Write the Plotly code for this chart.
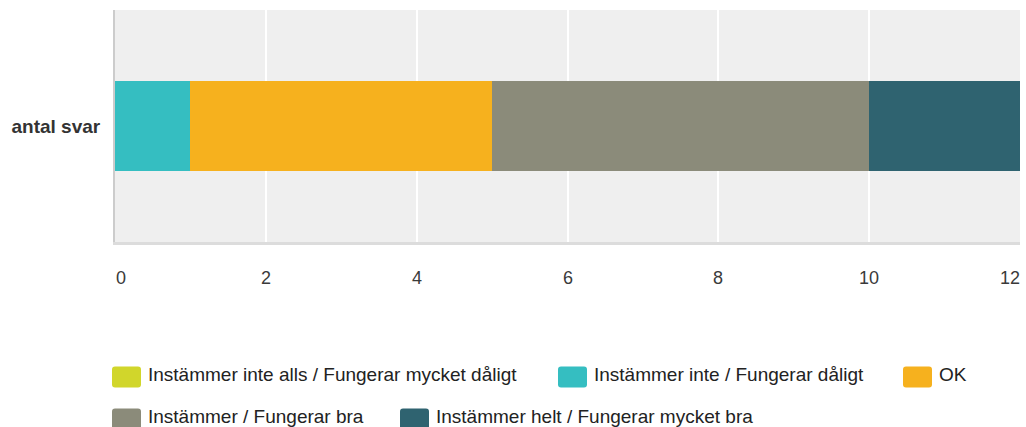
import plotly.graph_objects as go

# ---- data ----
category = ["antal svar"]
series_names = [
    "Instämmer inte alls / Fungerar mycket dåligt",
    "Instämmer inte / Fungerar dåligt",
    "OK",
    "Instämmer / Fungerar bra",
    "Instämmer helt / Fungerar mycket bra",
]
series_values = [0, 1, 4, 5, 2]
series_colors = ["#D1D62B", "#35BEC1", "#F6B11E", "#8B8B7A", "#2F6370"]
x_ticks = [0, 2, 4, 6, 8, 10, 12]

# ---- layout constants (pixels) ----
W, H = 1026, 427
ML, MR, MT, MB = 115, 6, 10, 185
FONT = "Liberation Sans, Arial, sans-serif"
FS = 19

fig = go.Figure()
for name, val, col in zip(series_names, series_values, series_colors):
    fig.add_trace(go.Bar(
        y=category, x=[val], name=name, orientation="h",
        marker=dict(color=col, line=dict(width=0)),
        width=0.388, showlegend=False, hoverinfo="name+x",
    ))

annotations = []
# x tick labels (ends nudged inward like the reference)
tick_shift = {x_ticks[0]: 6, x_ticks[-1]: -10}
for t in x_ticks:
    annotations.append(dict(
        x=t, xref="x", y=0, yref="paper", yshift=-36, yanchor="middle",
        xanchor="center", xshift=tick_shift.get(t, 0), text=str(t), showarrow=False,
        font=dict(family=FONT, size=18, color="#3A3A3A"),
    ))

# custom legend with rounded swatches
legend_pos = [(112, 377), (558, 377), (903, 377), (112, 419), (400, 419)]
sw_w, sw_h, rad = 29, 21, 3
plot_bottom = H - MB
shapes = []

def rounded(x0, x1, yb, yt, r):
    return (f"M {x0+r},{yb} L {x1-r},{yb} Q {x1},{yb} {x1},{yb+r} "
            f"L {x1},{yt-r} Q {x1},{yt} {x1-r},{yt} L {x0+r},{yt} "
            f"Q {x0},{yt} {x0},{yt-r} L {x0},{yb+r} Q {x0},{yb} {x0+r},{yb} Z")

for (px, cy), name, col in zip(legend_pos, series_names, series_colors):
    x0 = px - ML
    x1 = x0 + sw_w
    yc = plot_bottom - cy  # pixels up from plot bottom
    shapes.append(dict(
        type="path", xref="paper", yref="paper",
        xsizemode="pixel", ysizemode="pixel", xanchor=0, yanchor=0,
        path=rounded(x0, x1, yc - sw_h / 2, yc + sw_h / 2, rad),
        fillcolor=col, line=dict(width=0), layer="above",
    ))
    annotations.append(dict(
        x=0, xref="paper", xshift=x1 + 5, y=0, yref="paper", yshift=yc + 3,
        xanchor="left", yanchor="middle", text=name, showarrow=False,
        font=dict(family=FONT, size=FS, color="#222222"),
    ))

fig.update_layout(
    width=W, height=H, autosize=False,
    margin=dict(l=ML, r=MR, t=MT, b=MB, pad=0),
    barmode="stack", bargap=0,
    paper_bgcolor="white", plot_bgcolor="#EFEFEF",
    font=dict(family=FONT, size=FS, color="#333333"),
    xaxis=dict(
        range=[0, 12], tickvals=x_ticks, showticklabels=False, ticks="",
        showgrid=True, gridcolor="white", gridwidth=2, zeroline=False,
        showline=True, linecolor="#DCDCDC", linewidth=3, fixedrange=True,
    ),
    yaxis=dict(
        showgrid=False, zeroline=False, showline=True, linecolor="#CCCCCC",
        linewidth=2, ticks="", ticklabelstandoff=9, fixedrange=True,
        tickfont=dict(family=FONT, size=FS, color="#333333", weight="bold"),
    ),
    shapes=shapes, annotations=annotations, showlegend=False,
)

fig.write_html(
    "out.html",
    config={"displayModeBar": False},
    post_script="document.body.style.margin='0px';document.body.style.overflow='hidden';",
)
